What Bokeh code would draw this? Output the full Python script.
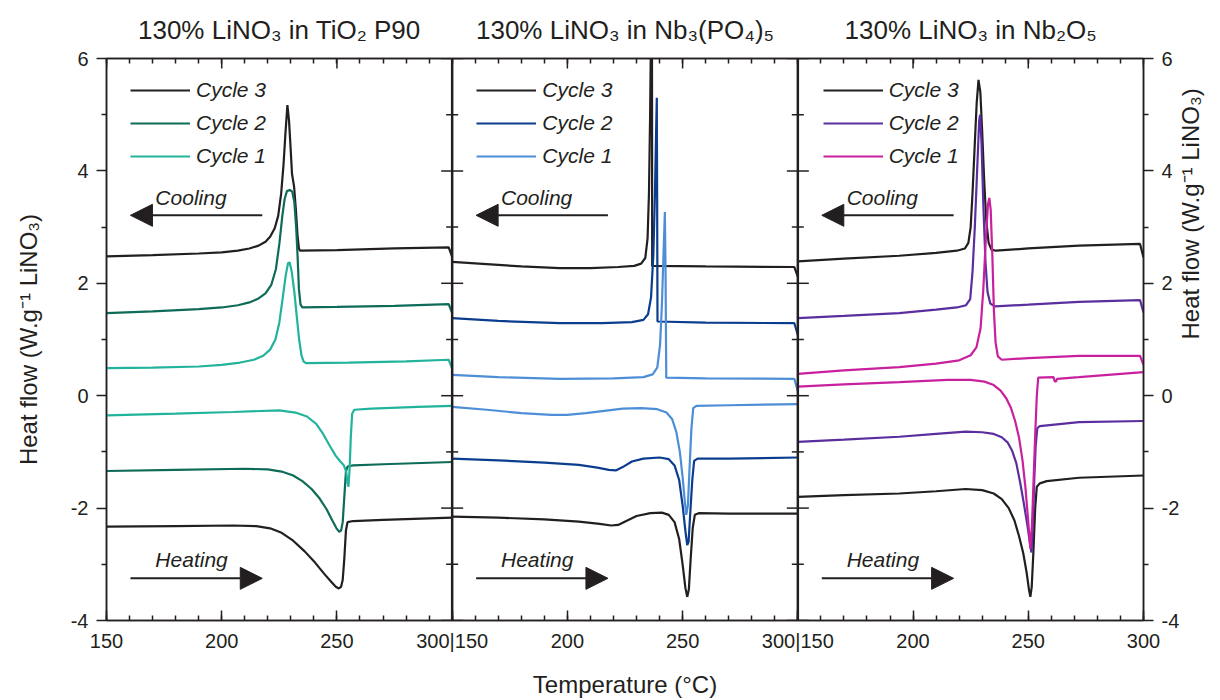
import math

from bokeh.plotting import figure
from bokeh.models import (Range1d, LinearAxis, FixedTicker, Span, Legend, LegendItem,
                          Label, Arrow, NormalHead)
from bokeh.embed import file_html
from bokeh.resources import INLINE

INK = "#231f20"
FONT = "Liberation Sans"

# ---------------- DSC traces: temperature (°C) and heat flow (W/g LiNO3) ----------------
# 130% LiNO3 in TiO2 P90
tio2_cool3_t = [150, 170, 190, 200, 207, 212, 216, 219, 221, 223, 224.5, 225.8, 226.8, 227.7, 228.5, 229.2, 229.9, 230.5, 231.4, 232.2, 232.9, 233.5, 234, 250, 275, 298.5, 300]
tio2_cool3_q = [2.48, 2.50, 2.53, 2.55, 2.58, 2.62, 2.67, 2.74, 2.83, 2.98, 3.20, 3.60, 4.10, 4.70, 5.17, 4.90, 4.40, 3.95, 3.72, 3.30, 2.85, 2.62, 2.58, 2.59, 2.62, 2.64, 2.47]
tio2_cool2_t = [150, 170, 190, 200, 207, 212, 216, 219, 221.5, 223.5, 225, 226.3, 227.3, 228.3, 229.5, 230.6, 231.5, 232.3, 232.9, 233.5, 234.2, 235, 250, 275, 298.5, 300]
tio2_cool2_q = [1.47, 1.50, 1.54, 1.57, 1.61, 1.66, 1.73, 1.82, 1.97, 2.25, 2.70, 3.20, 3.50, 3.64, 3.66, 3.63, 3.45, 3.00, 2.50, 1.90, 1.62, 1.57, 1.58, 1.60, 1.63, 1.47]
tio2_cool1_t = [150, 170, 190, 200, 208, 214, 218, 221, 223.3, 225, 226.5, 227.8, 228.8, 229.5, 230.4, 231.5, 232.6, 233.6, 234.6, 235.5, 236.5, 255, 280, 298.5, 300]
tio2_cool1_q = [0.49, 0.50, 0.52, 0.55, 0.59, 0.64, 0.71, 0.82, 1.00, 1.30, 1.75, 2.15, 2.36, 2.37, 2.20, 1.85, 1.40, 1.00, 0.72, 0.61, 0.58, 0.59, 0.61, 0.64, 0.48]
tio2_heat1_t = [150, 180, 205, 225, 232, 237, 241, 244, 247, 249.5, 251.5, 253, 254, 254.6, 255, 255.5, 256, 256.6, 257.5, 265, 285, 300]
tio2_heat1_q = [-0.35, -0.32, -0.29, -0.26, -0.30, -0.37, -0.50, -0.68, -0.90, -1.07, -1.17, -1.24, -1.35, -1.55, -1.62, -1.30, -0.75, -0.32, -0.25, -0.23, -0.20, -0.18]
tio2_heat2_t = [150, 180, 210, 220, 226, 231, 235, 239, 242.5, 245.5, 248, 249.8, 251, 251.8, 252.5, 253.2, 253.9, 254.6, 257, 270, 300]
tio2_heat2_q = [-1.34, -1.32, -1.30, -1.31, -1.35, -1.42, -1.52, -1.66, -1.83, -2.02, -2.22, -2.36, -2.42, -2.40, -2.25, -1.80, -1.35, -1.26, -1.24, -1.22, -1.18]
tio2_heat3_t = [150, 180, 205, 215, 221, 226, 231, 236, 240.5, 244.5, 247.5, 249.5, 250.8, 251.8, 252.5, 253.2, 253.9, 254.6, 257, 270, 300]
tio2_heat3_q = [-2.33, -2.32, -2.31, -2.32, -2.36, -2.44, -2.58, -2.77, -2.97, -3.17, -3.31, -3.40, -3.43, -3.40, -3.28, -2.90, -2.40, -2.25, -2.23, -2.21, -2.17]

# 130% LiNO3 in Nb3(PO4)5
nbp_cool3_t = [150, 165, 180, 196.7, 210, 222, 229, 232, 233.8, 234.8, 235.4, 235.9, 236.3, 236.7, 236.8, 260, 298.5, 300]
nbp_cool3_q = [2.38, 2.34, 2.30, 2.27, 2.27, 2.29, 2.31, 2.35, 2.45, 2.80, 3.60, 5.00, 6.60, 6.60, 2.31, 2.30, 2.29, 2.12]
nbp_cool2_t = [150, 170, 196.7, 215, 228, 233, 235, 236.3, 237.3, 238, 238.5, 238.8, 238.95, 239.1, 260, 298.5, 300]
nbp_cool2_q = [1.38, 1.33, 1.29, 1.29, 1.31, 1.35, 1.45, 1.75, 2.50, 3.60, 4.70, 5.30, 3.50, 1.32, 1.30, 1.29, 1.08]
nbp_cool1_t = [150, 170, 196.7, 220, 233, 237, 239, 240.2, 241, 241.7, 242.3, 242.6, 242.9, 260, 298.5, 300]
nbp_cool1_q = [0.37, 0.33, 0.30, 0.31, 0.33, 0.38, 0.50, 0.90, 1.60, 2.50, 3.27, 2.20, 0.32, 0.31, 0.30, 0.08]
nbp_heat1_t = [150, 165, 180, 193, 200, 208, 216, 224, 232, 239, 243, 245.5, 247.3, 248.8, 250, 251, 251.6, 252.3, 253, 253.8, 254.6, 256, 270, 300]
nbp_heat1_q = [-0.20, -0.25, -0.31, -0.34, -0.34, -0.31, -0.27, -0.23, -0.22, -0.24, -0.30, -0.42, -0.65, -1.00, -1.45, -1.90, -2.12, -1.95, -1.30, -0.60, -0.22, -0.18, -0.17, -0.15]
nbp_heat2_t = [150, 170, 190, 205, 213, 218, 221, 224, 228, 233, 240, 244, 246.5, 248.5, 250, 251.2, 252, 252.6, 253.3, 254.2, 255, 256.5, 270, 300]
nbp_heat2_q = [-1.12, -1.15, -1.19, -1.23, -1.28, -1.32, -1.33, -1.27, -1.17, -1.12, -1.10, -1.13, -1.24, -1.50, -1.95, -2.40, -2.66, -2.60, -2.10, -1.50, -1.16, -1.12, -1.12, -1.10]
nbp_heat3_t = [150, 170, 190, 205, 214, 219, 222, 226, 230, 236, 241, 244, 246.5, 248.5, 250, 251.2, 252, 252.7, 253.5, 254.4, 255.3, 257, 270, 300]
nbp_heat3_q = [-2.15, -2.17, -2.20, -2.24, -2.28, -2.31, -2.30, -2.22, -2.14, -2.09, -2.08, -2.12, -2.25, -2.55, -3.00, -3.42, -3.58, -3.45, -2.90, -2.35, -2.12, -2.09, -2.10, -2.10]

# 130% LiNO3 in Nb2O5
nbo_cool3_t = [150, 170, 194, 210, 219, 222.5, 224, 225, 225.8, 226.7, 227.6, 228.4, 229.2, 230, 230.9, 231.8, 232.8, 234, 236, 250, 272, 298.5, 300]
nbo_cool3_q = [2.39, 2.44, 2.49, 2.54, 2.58, 2.62, 2.72, 3.00, 3.60, 4.40, 5.20, 5.62, 5.40, 4.70, 3.80, 3.10, 2.72, 2.60, 2.58, 2.62, 2.67, 2.70, 2.46]
nbo_cool2_t = [150, 170, 194, 210, 219, 223, 224.8, 225.8, 226.8, 227.8, 228.7, 229.1, 229.7, 230.5, 231.4, 232.3, 233.5, 235.5, 250, 272, 298.5, 300]
nbo_cool2_q = [1.38, 1.42, 1.47, 1.53, 1.57, 1.61, 1.72, 2.20, 3.00, 4.00, 4.90, 5.00, 4.50, 3.40, 2.40, 1.85, 1.64, 1.59, 1.62, 1.67, 1.70, 1.48]
nbo_cool1_t = [150, 170, 194, 210, 220, 225, 227.5, 229.3, 230.5, 231.6, 232.5, 233.1, 233.7, 234.4, 235.1, 235.8, 236.8, 238.5, 250, 272, 298.5, 300]
nbo_cool1_q = [0.39, 0.45, 0.51, 0.57, 0.63, 0.72, 0.86, 1.20, 1.90, 2.80, 3.40, 3.52, 3.30, 2.50, 1.50, 0.95, 0.70, 0.64, 0.67, 0.71, 0.71, 0.55]
nbo_heat1_t = [150, 170, 194, 215, 225, 231, 235, 238, 240.5, 242.5, 244.3, 246, 247.5, 248.8, 250, 250.9, 251.6, 252.3, 253, 253.7, 254.3, 261, 261.4, 262, 262.5, 272, 300]
nbo_heat1_q = [0.16, 0.20, 0.24, 0.28, 0.28, 0.25, 0.19, 0.09, -0.05, -0.22, -0.45, -0.75, -1.15, -1.65, -2.25, -2.72, -2.30, -1.50, -0.70, 0.00, 0.32, 0.33, 0.26, 0.25, 0.30, 0.33, 0.42]
nbo_heat2_t = [150, 170, 194, 210, 222.8, 230, 235, 238.5, 241, 243, 244.8, 246.5, 248, 249.6, 250.8, 251.4, 252, 252.6, 253.2, 253.9, 255, 272, 300]
nbo_heat2_q = [-0.82, -0.78, -0.73, -0.68, -0.64, -0.65, -0.68, -0.74, -0.83, -0.98, -1.20, -1.55, -1.90, -2.30, -2.65, -2.79, -2.30, -1.50, -0.90, -0.58, -0.54, -0.47, -0.45]
nbo_heat3_t = [150, 170, 194, 210, 222.8, 230, 235, 238.5, 241.5, 244, 246, 247.8, 249.3, 250.3, 250.9, 251.5, 252.2, 253, 253.7, 255, 258, 272, 300]
nbo_heat3_q = [-1.80, -1.77, -1.74, -1.70, -1.66, -1.68, -1.74, -1.84, -2.00, -2.22, -2.50, -2.80, -3.15, -3.45, -3.58, -3.40, -2.80, -2.00, -1.62, -1.56, -1.52, -1.46, -1.42]

panel_titles = ["130% LiNO₃ in TiO₂ P90", "130% LiNO₃ in Nb₃(PO₄)₅", "130% LiNO₃ in Nb₂O₅"]
cycle_labels = ["Cycle 3", "Cycle 2", "Cycle 1"]
panel_colors = [
    [INK, "#0e6b58", "#22b39c"],
    [INK, "#0b3d8f", "#4d8ed6"],
    [INK, "#5a2e9f", "#c8209e"],
]
panel_curves = [
    [(tio2_cool3_t, tio2_cool3_q, tio2_heat3_t, tio2_heat3_q),
     (tio2_cool2_t, tio2_cool2_q, tio2_heat2_t, tio2_heat2_q),
     (tio2_cool1_t, tio2_cool1_q, tio2_heat1_t, tio2_heat1_q)],
    [(nbp_cool3_t, nbp_cool3_q, nbp_heat3_t, nbp_heat3_q),
     (nbp_cool2_t, nbp_cool2_q, nbp_heat2_t, nbp_heat2_q),
     (nbp_cool1_t, nbp_cool1_q, nbp_heat1_t, nbp_heat1_q)],
    [(nbo_cool3_t, nbo_cool3_q, nbo_heat3_t, nbo_heat3_q),
     (nbo_cool2_t, nbo_cool2_q, nbo_heat2_t, nbo_heat2_q),
     (nbo_cool1_t, nbo_cool1_q, nbo_heat1_t, nbo_heat1_q)],
]

T_MIN, T_MAX = 150, 300
SPAN = T_MAX - T_MIN            # each panel covers 150-300 °C on a shared axis
Y_MIN, Y_MAX = -4, 6

W, H = 1220, 700
B_LEFT, B_RIGHT, B_TOP, B_BOTTOM = 106, 75, 58, 79
frame_w = W - B_LEFT - B_RIGHT
panel_px = frame_w / 3

p = figure(width=W, height=H, x_range=Range1d(T_MIN, T_MIN + 3 * SPAN),
           y_range=Range1d(Y_MIN, Y_MAX), output_backend="svg", toolbar_location=None,
           x_axis_type=None, y_axis_type=None,
           min_border_left=B_LEFT, min_border_right=B_RIGHT,
           min_border_top=B_TOP, min_border_bottom=B_BOTTOM)
p.background_fill_color = "white"
p.border_fill_color = "white"
p.outline_line_color = INK
p.outline_line_width = 1.5

# ---------------- axes ----------------
major_x = [T_MIN + SPAN * k + d for k in range(3) for d in (0, 50, 100)] + [T_MIN + 3 * SPAN]
minor_x = list(range(T_MIN, T_MIN + 3 * SPAN + 1, 10))
x_labels = {}
for k in range(3):
    for d in (0, 50, 100):
        x_labels[T_MIN + SPAN * k + d] = str(T_MIN + d)
x_labels[T_MIN + SPAN] = "300|150"
x_labels[T_MIN + 2 * SPAN] = "300|150"
x_labels[T_MIN + 3 * SPAN] = "300"


def style_axis(ax):
    ax.axis_line_color = INK
    ax.axis_line_width = 1.5
    ax.major_tick_line_color = INK
    ax.minor_tick_line_color = INK
    ax.major_tick_line_width = 1.5
    ax.minor_tick_line_width = 1.5
    ax.major_label_text_font = FONT
    ax.major_label_text_font_size = "20px"
    ax.major_label_text_color = INK
    ax.axis_label_text_font = FONT
    ax.axis_label_text_font_size = "24px"
    ax.axis_label_text_font_style = "normal"
    ax.axis_label_text_color = INK


xb = LinearAxis(ticker=FixedTicker(ticks=major_x, minor_ticks=minor_x),
                major_label_overrides=x_labels, axis_label="Temperature (°C)",
                major_tick_in=10, major_tick_out=0, minor_tick_in=5, minor_tick_out=0,
                major_label_standoff=9, axis_label_standoff=16)
style_axis(xb)
p.add_layout(xb, "below")

# top edge: panel titles sit on the panel centres, minor ticks every 10 °C
centres = [(T_MIN + T_MAX) / 2 + SPAN * k for k in range(3)]
xt = LinearAxis(ticker=FixedTicker(ticks=centres, minor_ticks=minor_x),
                major_label_overrides={c: t for c, t in zip(centres, panel_titles)},
                major_tick_in=0, major_tick_out=0, minor_tick_in=5, minor_tick_out=0,
                major_label_standoff=14)
style_axis(xt)
xt.major_label_text_font_size = "26px"
p.add_layout(xt, "above")
# longer inward ticks every 50 °C along the top edge
p.scatter(x=major_x, y=[Y_MAX] * len(major_x), marker="dash", angle=math.pi / 2,
          size=20, line_color=INK, line_width=1.5)

y_major = [-4, -2, 0, 2, 4, 6]
y_minor = [-3, -1, 1, 3, 5]
y_ticker = FixedTicker(ticks=y_major, minor_ticks=y_minor)
y_labels = {v: str(v) for v in y_major}
y_title = "Heat flow (W.g⁻¹ LiNO₃)"

yl = LinearAxis(ticker=y_ticker, major_label_overrides=y_labels, axis_label=y_title,
                major_tick_in=0, major_tick_out=10, minor_tick_in=0, minor_tick_out=5,
                major_label_standoff=8, axis_label_standoff=26)
style_axis(yl)
p.add_layout(yl, "left")

yr = LinearAxis(ticker=y_ticker, major_label_overrides=y_labels, axis_label=y_title,
                major_tick_in=0, major_tick_out=10, minor_tick_in=0, minor_tick_out=5,
                major_label_standoff=8, axis_label_standoff=8)
style_axis(yr)
if "axis_label_orientation" in yr.properties():
    yr.axis_label_orientation = math.pi / 2
p.add_layout(yr, "right")

# panel separators with their two-sided tick marks
for k in (1, 2):
    xs = T_MIN + SPAN * k
    p.add_layout(Span(location=xs, dimension="height", line_color=INK, line_width=2.5))
    p.scatter(x=[xs] * len(y_major), y=y_major, marker="dash", size=22,
              line_color=INK, line_width=1.5)
    p.scatter(x=[xs] * len(y_minor), y=y_minor, marker="dash", size=12,
              line_color=INK, line_width=1.5)

# ---------------- traces ----------------
for k in range(3):
    off = SPAN * k
    items = []
    for (ct, cq, ht, hq), color, lab in zip(panel_curves[k], panel_colors[k], cycle_labels):
        r = p.line([t + off for t in ct], cq, line_color=color, line_width=2.2)
        p.line([t + off for t in ht], hq, line_color=color, line_width=2.2)
        items.append(LegendItem(label=lab, renderers=[r]))

    leg = Legend(items=items, location=(24 + k * panel_px, 452),
                 glyph_width=60, glyph_height=24, label_height=24, label_standoff=6,
                 spacing=9, padding=0, margin=0, border_line_alpha=0,
                 background_fill_alpha=0, label_text_font=FONT,
                 label_text_font_size="21px", label_text_font_style="italic",
                 label_text_color=INK)
    p.add_layout(leg)

    # cooling / heating direction markers
    p.add_layout(Arrow(end=NormalHead(size=22, fill_color=INK, line_color=INK),
                       x_start=217.6 + off, y_start=3.21, x_end=160.4 + off, y_end=3.21,
                       line_color=INK, line_width=2))
    p.add_layout(Arrow(end=NormalHead(size=22, fill_color=INK, line_color=INK),
                       x_start=160.4 + off, y_start=-3.25, x_end=217.6 + off, y_end=-3.25,
                       line_color=INK, line_width=2))
    p.add_layout(Label(x=171.2 + off, y=3.53, text="Cooling", text_baseline="middle",
                       text_font=FONT, text_font_size="21px", text_font_style="italic",
                       text_color=INK))
    p.add_layout(Label(x=171.2 + off, y=-2.92, text="Heating", text_baseline="middle",
                       text_font=FONT, text_font_size="21px", text_font_style="italic",
                       text_color=INK))

open("out.html", "w").write(file_html(p, INLINE))
